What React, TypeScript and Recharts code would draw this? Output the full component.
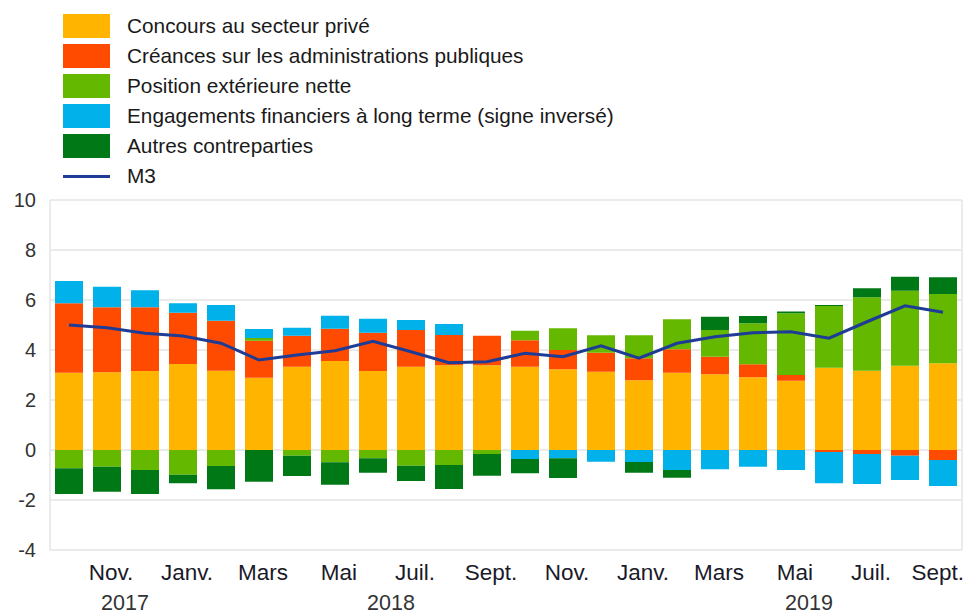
import { ComposedChart, Bar, Line, XAxis, YAxis, CartesianGrid } from "recharts";

const periods = [
  "2017-10", "2017-11", "2017-12",
  "2018-01", "2018-02", "2018-03", "2018-04", "2018-05", "2018-06",
  "2018-07", "2018-08", "2018-09", "2018-10", "2018-11", "2018-12",
  "2019-01", "2019-02", "2019-03", "2019-04", "2019-05", "2019-06",
  "2019-07", "2019-08", "2019-09",
];

const monthLabels = [
  "", "Nov.", "", "Janv.", "", "Mars", "", "Mai", "", "Juil.", "", "Sept.",
  "", "Nov.", "", "Janv.", "", "Mars", "", "Mai", "", "Juil.", "", "Sept.",
];

const yearLabels: Record<number, string> = { 1: "2017", 8: "2018", 19: "2019" };

const prive = [
  3.09, 3.11, 3.16, 3.44, 3.17, 2.89, 3.33, 3.56, 3.16, 3.33, 3.39, 3.39,
  3.33, 3.23, 3.13, 2.79, 3.09, 3.03, 2.91, 2.77, 3.29, 3.17, 3.37, 3.47,
];
const administrations = [
  2.78, 2.6, 2.55, 2.05, 2.0, 1.48, 1.24, 1.29, 1.53, 1.47, 1.21, 1.18,
  1.06, 0.77, 0.76, 0.88, 0.94, 0.7, 0.52, 0.23, -0.08, -0.16, -0.23, -0.4,
];
const exterieure = [
  -0.73, -0.67, -0.8, -0.99, -0.64, 0.11, -0.23, -0.49, -0.33, -0.63, -0.6, -0.16,
  0.38, 0.87, 0.7, 0.92, 1.2, 1.07, 1.64, 2.47, 2.47, 2.94, 3.0, 2.77,
];
const longTerme = [
  0.89, 0.82, 0.68, 0.38, 0.63, 0.36, 0.32, 0.52, 0.56, 0.4, 0.44, 0,
  -0.36, -0.33, -0.47, -0.48, -0.8, -0.77, -0.67, -0.8, -1.25, -1.2, -0.97, -1.04,
];
const autres = [
  -1.03, -1.0, -0.96, -0.34, -0.93, -1.27, -0.81, -0.9, -0.58, -0.61, -0.96, -0.87,
  -0.57, -0.79, 0, -0.43, -0.31, 0.53, 0.29, 0.07, 0.04, 0.36, 0.56, 0.67,
];
const m3 = [
  5.0, 4.89, 4.67, 4.56, 4.27, 3.6, 3.8, 3.97, 4.35, 3.93, 3.49, 3.53,
  3.87, 3.73, 4.17, 3.67, 4.27, 4.53, 4.69, 4.73, 4.47, 5.13, 5.77, 5.51,
];

const yTicks = [-4, -2, 0, 2, 4, 6, 8, 10];

const series = [
  { key: "prive", name: "Concours au secteur privé", color: "#FFB400" },
  { key: "administrations", name: "Créances sur les administrations publiques", color: "#FF4B00" },
  { key: "exterieure", name: "Position extérieure nette", color: "#65B800" },
  { key: "longTerme", name: "Engagements financiers à long terme (signe inversé)", color: "#00B1EA" },
  { key: "autres", name: "Autres contreparties", color: "#007816" },
];
const lineColor = "#1E3C96";

const data = periods.map((p, i) => ({
  period: p,
  prive: prive[i],
  administrations: administrations[i],
  exterieure: exterieure[i],
  longTerme: longTerme[i],
  autres: autres[i],
  m3: m3[i],
}));

const font = "'Liberation Sans', Arial, Helvetica, sans-serif";

function MonthTick(props: any) {
  const { x, y, payload } = props;
  const i = payload.index;
  const year = yearLabels[i];
  // keep the last label inside the picture
  const nearEdge = x + 32 > 965;
  return (
    <g>
      <text
        x={nearEdge ? 964 : x + 4}
        y={y + 30}
        textAnchor={nearEdge ? "end" : "middle"}
        fontSize={22.5}
        fill="#1a1a2a"
        fontFamily={font}
      >
        {monthLabels[i]}
      </text>
      {year && (
        <text x={x + 18} y={y + 60} textAnchor="middle" fontSize={21.5} fill="#333" fontFamily={font}>
          {year}
        </text>
      )}
    </g>
  );
}

function LegendBox() {
  return (
    <div style={{ position: "absolute", left: 63, top: 14, fontFamily: font, fontSize: 20.8, color: "#1a1a1a" }}>
      {series.map((s) => (
        <div key={s.key} style={{ display: "flex", alignItems: "center", height: 24, marginBottom: 6, lineHeight: "24px" }}>
          <div style={{ width: 47, height: 24, background: s.color }} />
          <span style={{ marginLeft: 17, whiteSpace: "nowrap" }}>{s.name}</span>
        </div>
      ))}
      <div style={{ display: "flex", alignItems: "center", height: 24, lineHeight: "24px" }}>
        <div style={{ width: 47, height: 3, background: lineColor }} />
        <span style={{ marginLeft: 17 }}>M3</span>
      </div>
    </div>
  );
}

export default function App() {
  return (
    <div style={{ position: "absolute", left: 0, top: 0, width: 967, height: 615, background: "#fff" }}>
      <LegendBox />
      <ComposedChart
        width={967}
        height={615}
        data={data}
        stackOffset="sign"
        margin={{ top: 200, right: 5, bottom: 5, left: 0 }}
        barSize={28}
      >
        <CartesianGrid
          stroke="#e4e4e4"
          strokeWidth={1.5}
          verticalCoordinatesGenerator={({ offset }: any) => [offset.left, offset.left + offset.width]}
        />
        <XAxis
          dataKey="period"
          interval={0}
          axisLine={false}
          tickLine={false}
          tickSize={0}
          tickMargin={0}
          height={60}
          tick={<MonthTick />}
        />
        <YAxis
          domain={[-4, 10]}
          ticks={yTicks}
          width={50}
          axisLine={false}
          tickLine={false}
          tickSize={0}
          tickMargin={14}
          tick={{ fontSize: 20, fill: "#333", fontFamily: font }}
        />
        {series.map((s) => (
          <Bar key={s.key} dataKey={s.key} name={s.name} stackId="a" fill={s.color} isAnimationActive={false} />
        ))}
        <Line
          type="linear"
          dataKey="m3"
          name="M3"
          stroke={lineColor}
          strokeWidth={3}
          dot={false}
          isAnimationActive={false}
        />
      </ComposedChart>
    </div>
  );
}
